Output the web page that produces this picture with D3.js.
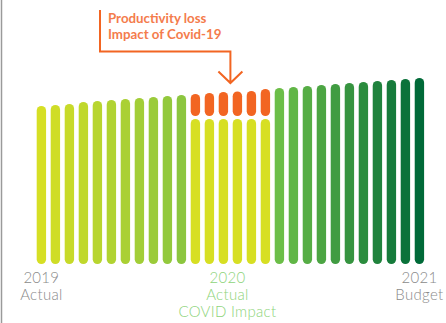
<!DOCTYPE html>
<html>
<head>
<meta charset="utf-8">
<script src="https://cdn.jsdelivr.net/npm/d3@7"></script>
<style>
  body { margin: 0; background: #fff; }
  svg { display: block; }
  .lbl { font-family: Lato, "Open Sans", sans-serif; font-weight: 300; font-size: 15px; letter-spacing: 0.3px; }
  .note { font-family: Lato, "Open Sans", sans-serif; font-weight: 700; font-size: 13.3px; fill: #f47c4c; }
</style>
</head>
<body>
<div id="chart"></div>
<script>
// monthly index, 2019 actual -> 2020 (covid) -> 2021 budget
var actual2019 = [158, 159, 160, 162, 163, 164, 165, 166, 167, 168, 169];
var covidPlanned = [170, 171, 172, 172.5, 173, 175];
var covidActual = [145, 145, 145, 145, 145, 145];
var budget2021 = [176, 177, 178, 179, 180, 181, 182, 183, 184, 185, 186];

var periodLabels = [
  {lines: ["2019", "Actual"], color: "#8a8a8a"},
  {lines: ["2020", "Actual", "COVID Impact"], color: "#8ed47a"},
  {lines: ["2021", "Budget"], color: "#8a8a8a"}
];
var noteLines = ["Productivity loss", "Impact of Covid-19"];

var W = 446, H = 323;
var svg = d3.select("#chart").append("svg").attr("width", W).attr("height", H);

// left border line
svg.append("line").attr("x1", 1.5).attr("x2", 1.5).attr("y1", 0).attr("y2", H)
  .attr("stroke", "#9a9a9a").attr("stroke-width", 1.5);

// build bar rows
var bars = [];
actual2019.forEach(function (v, i) { bars.push({group: 0, k: i, n: actual2019.length, v: v}); });
covidPlanned.forEach(function (v, i) { bars.push({group: 1, k: i, v: v, low: covidActual[i]}); });
budget2021.forEach(function (v, i) { bars.push({group: 2, k: i, n: budget2021.length, v: v}); });

var x = d3.scaleBand().domain(d3.range(bars.length)).range([36.7, 424.1]).paddingInner(0.33).paddingOuter(0);
var y = d3.scaleLinear().domain([0, 190]).range([264, 74]);

var colA = d3.interpolateRgb("#d6df24", "#8cc63f");
var colC = d3.interpolateRgb("#6cbe48", "#006a38");
var yellow = "#d7df23", orange = "#f26522";

var bw = x.bandwidth(), r = bw / 2, gap = 3;

var g = svg.append("g");
bars.forEach(function (d, i) {
  var bx = x(i);
  if (d.group === 1) {
    g.append("rect").attr("x", bx).attr("width", bw)
      .attr("y", y(d.low)).attr("height", y(0) - y(d.low))
      .attr("rx", r).attr("fill", yellow);
    g.append("rect").attr("x", bx).attr("width", bw)
      .attr("y", y(d.v)).attr("height", y(d.low) - y(d.v) - gap)
      .attr("rx", r).attr("fill", orange);
  } else {
    var c = d.group === 0 ? colA(d.k / (d.n - 1)) : colC(d.k / (d.n - 1));
    g.append("rect").attr("x", bx).attr("width", bw)
      .attr("y", y(d.v)).attr("height", y(0) - y(d.v))
      .attr("rx", r).attr("fill", c);
  }
});

// period labels
var nA = actual2019.length, nC = covidPlanned.length;
var labelX = [
  x(0) + bw / 2,
  (x(nA) + x(nA + nC - 1) + bw) / 2 - 3,
  x(bars.length - 1) + bw / 2
];
periodLabels.forEach(function (p, i) {
  var t = svg.append("text").attr("class", "lbl").attr("text-anchor", "middle")
    .attr("fill", p.color);
  p.lines.forEach(function (s, j) {
    t.append("tspan").attr("x", labelX[i]).attr("y", 283 + j * 17).text(s);
  });
});

// annotation, arrow points between the 3rd and 4th covid month
var ax = (x(nA + 2) + x(nA + 3) + bw) / 2;
svg.append("path")
  .attr("d", "M100,10 V51.5 H" + ax + " V83 M" + (ax - 12) + ",71.5 L" + ax + ",83 L" + (ax + 12) + ",71.5")
  .attr("fill", "none").attr("stroke", orange).attr("stroke-width", 2);
noteLines.forEach(function (s, j) {
  svg.append("text").attr("class", "note").attr("x", 108).attr("y", 23 + j * 15.5).text(s);
});
</script>
</body>
</html>
